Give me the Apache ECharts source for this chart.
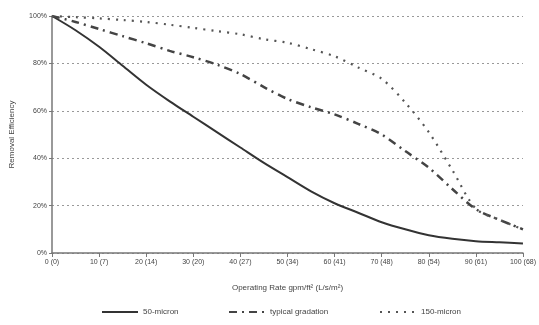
<!DOCTYPE html>
<html>
<head>
<meta charset="utf-8">
<script src="https://cdn.jsdelivr.net/npm/echarts@6/dist/echarts.min.js"></script>
<style>
  html, body { margin: 0; padding: 0; background: #fff; }
  #chart { width: 539px; height: 325px; }
</style>
</head>
<body>
<div id="chart"></div>
<script>
// operating rate, gpm/ft2
var rates = [0, 5, 10, 15, 20, 25, 30, 35, 40, 45, 50, 55, 60, 65, 70, 75, 80, 85, 90, 95, 100];
// removal efficiency, %
var micron50 = [100, 94, 87, 79, 71, 64, 57.5, 51, 44.5, 38, 32, 26, 21, 17, 13, 10, 7.5, 6, 5, 4.5, 4];
var typicalGradation = [100, 97.5, 94.5, 91.5, 88.5, 85.3, 82.6, 79.5, 75.5, 70, 65, 61.5, 58.5, 54.5, 50, 43, 36, 27, 18.5, 14, 10];
var micron150 = [100, 99.5, 99, 98.3, 97.5, 96.3, 95, 93.6, 92.3, 90.2, 88.7, 86, 83, 78.3, 73.5, 63.5, 51, 35, 18.7, 14, 10];
var xTickLabels = ['0 (0)', '10 (7)', '20 (14)', '30 (20)', '40 (27)', '50 (34)', '60 (41)', '70 (48)', '80 (54)', '90 (61)', '100 (68)'];

function pairs(ys) {
    return rates.map(function (x, i) { return [x, ys[i]]; });
}

var chart = echarts.init(document.getElementById('chart'));
var font = 'Liberation Sans';
var textColor = '#444';

var legendBase = {
    bottom: 4,
    itemWidth: 36,
    itemHeight: 8,
    itemStyle: { opacity: 0 },
    textStyle: { fontFamily: font, fontSize: 8, color: textColor }
};

var option = {
    backgroundColor: '#fff',
    animation: false,
    grid: { left: 48, right: 16, top: 16, bottom: 72 },
    legend: [
        Object.assign({ left: 96, data: ['50-micron'] }, legendBase),
        Object.assign({ left: 223, data: ['typical gradation'] }, legendBase),
        Object.assign({ left: 374, data: ['150-micron'] }, legendBase)
    ],
    xAxis: {
        type: 'value',
        min: 0,
        max: 100,
        interval: 10,
        name: 'Operating Rate gpm/ft\u00b2 (L/s/m\u00b2)',
        nameLocation: 'middle',
        nameGap: 31,
        nameTextStyle: { fontFamily: font, fontSize: 8, color: textColor },
        axisLine: { lineStyle: { color: '#777', width: 1.5 } },
        axisTick: { show: true, length: 4, lineStyle: { color: '#777' } },
        axisLabel: {
            fontFamily: font, fontSize: 7, color: textColor, margin: 6,
            formatter: function (v) { return xTickLabels[Math.round(v / 10)]; }
        },
        splitLine: { show: false }
    },
    yAxis: {
        type: 'value',
        min: 0,
        max: 100,
        interval: 20,
        name: 'Removal Efficiency',
        nameLocation: 'middle',
        nameGap: 36,
        nameTextStyle: { fontFamily: font, fontSize: 8, color: textColor },
        axisLine: { show: true, lineStyle: { color: '#777', width: 1.5 } },
        axisTick: { show: true, length: 3, lineStyle: { color: '#777' } },
        axisLabel: { fontFamily: font, fontSize: 7, color: textColor, margin: 5, formatter: '{value}%' },
        splitLine: { show: true, lineStyle: { color: '#999', width: 1, type: [2, 3] } }
    },
    series: [
        {
            name: '50-micron',
            type: 'line',
            smooth: 0.3,
            symbol: 'none',
            color: '#333',
            lineStyle: { color: '#333', width: 2 },
            data: pairs(micron50)
        },
        {
            name: 'typical gradation',
            type: 'line',
            smooth: 0.3,
            symbol: 'none',
            color: '#444',
            lineStyle: { color: '#444', width: 2.5, type: [8, 5, 2, 5] },
            data: pairs(typicalGradation)
        },
        {
            name: '150-micron',
            type: 'line',
            smooth: 0.3,
            symbol: 'none',
            color: '#555',
            lineStyle: { color: '#555', width: 2.2, type: [2, 6] },
            data: pairs(micron150)
        }
    ]
};

chart.setOption(option);
</script>
</body>
</html>
